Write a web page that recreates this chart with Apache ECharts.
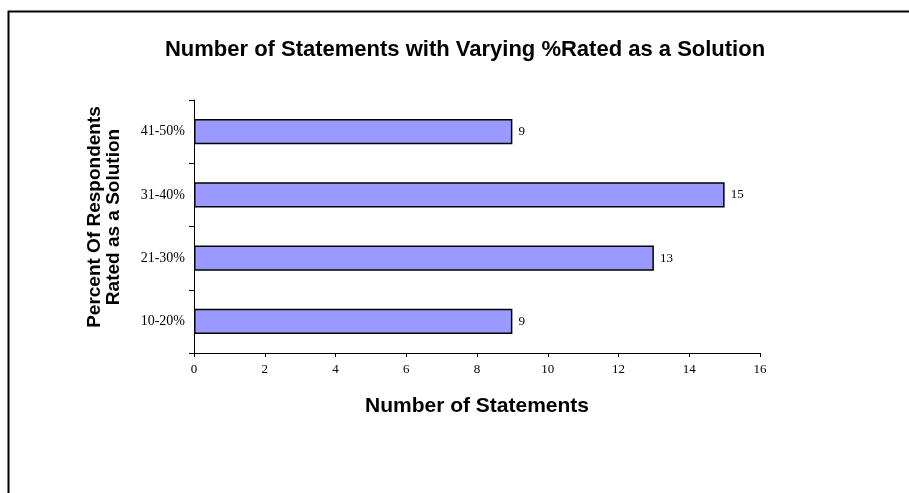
<!DOCTYPE html>
<html>
<head>
<meta charset="utf-8">
<script src="https://cdn.jsdelivr.net/npm/echarts@6/dist/echarts.min.js"></script>
<style>
html,body{margin:0;padding:0;background:#fff;}
#chart{width:909px;height:493px;}
</style>
</head>
<body>
<div id="chart"></div>
<script>
var categories = ['10-20%', '21-30%', '31-40%', '41-50%'];
var statementCounts = [9, 13, 15, 9];
var xTicks = [0, 2, 4, 6, 8, 10, 12, 14, 16];

var chart = echarts.init(document.getElementById('chart'));
var option = {
  backgroundColor: '#ffffff',
  animation: false,
  graphic: [
    {
      type: 'rect', left: 6, top: 9, z: 0,
      shape: { width: 940, height: 520 },
      style: { fill: 'none', stroke: '#000', lineWidth: 2 }
    },
    {
      type: 'text', x: 465, y: 50, z: 10,
      style: {
        text: 'Number of Statements with Varying %Rated as a Solution',
        font: 'bold 22px "Liberation Sans", Arial, sans-serif',
        fill: '#000', align: 'center', verticalAlign: 'middle'
      }
    },
    {
      type: 'text', x: 104, y: 217, rotation: Math.PI / 2, z: 10,
      style: {
        text: 'Percent Of Respondents\nRated as a Solution',
        font: 'bold 19px "Liberation Sans", Arial, sans-serif',
        lineHeight: 19,
        fill: '#000', align: 'center', verticalAlign: 'middle'
      }
    }
  ],
  grid: { left: 194, right: 149, top: 100, bottom: 140, containLabel: false },
  xAxis: {
    type: 'value', min: 0, max: 16, interval: 2,
    name: 'Number of Statements', nameLocation: 'middle', nameGap: 43,
    nameTextStyle: { fontFamily: '"Liberation Sans", Arial, sans-serif', fontWeight: 'bold', fontSize: 21, color: '#000' },
    axisLine: { show: true, lineStyle: { color: '#000', width: 1 } },
    axisTick: { show: true, length: 4, lineStyle: { color: '#000' } },
    axisLabel: {
      fontFamily: '"Liberation Serif", "Times New Roman", serif', fontSize: 13, color: '#000', margin: 10,
      formatter: function (v) { return xTicks.indexOf(v) >= 0 ? String(v) : ''; }
    },
    splitLine: { show: false }
  },
  yAxis: {
    type: 'category', data: categories,
    axisLine: { show: true, lineStyle: { color: '#000', width: 1 } },
    axisTick: { show: true, length: 5, lineStyle: { color: '#000' } },
    axisLabel: { fontFamily: '"Liberation Serif", "Times New Roman", serif', fontSize: 14, color: '#000', margin: 9 },
    splitLine: { show: false }
  },
  series: [{
    type: 'bar',
    data: statementCounts,
    barCategoryGap: '60%',
    itemStyle: { color: '#9999FF', borderColor: '#000', borderWidth: 1.5 },
    label: {
      show: true, position: 'right', distance: 6,
      fontFamily: '"Liberation Serif", "Times New Roman", serif', fontSize: 13, color: '#000'
    }
  }]
};
chart.setOption(option);
</script>
</body>
</html>
